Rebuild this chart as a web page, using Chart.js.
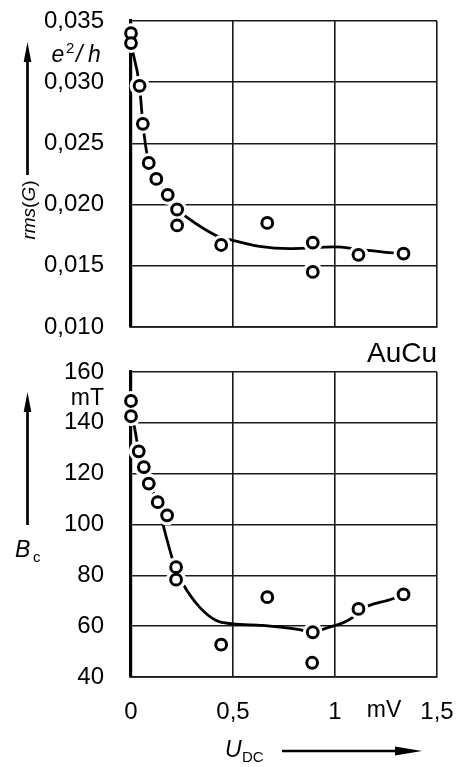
<!DOCTYPE html>
<html><head><meta charset="utf-8">
<script src="https://cdn.jsdelivr.net/npm/chart.js@4.4.0/dist/chart.umd.min.js"></script>
<style>
html,body{margin:0;padding:0;background:#fff;}
#wrap{position:relative;width:459px;height:767px;overflow:hidden;}
#c1{position:absolute;left:0;top:0;}
#c2{position:absolute;left:0;top:340px;}
</style></head><body>
<div id="wrap"><canvas id="c1" width="459" height="340"></canvas><canvas id="c2" width="459" height="427"></canvas></div>
<script>
// ---- data ----
const xTicks = [0, 0.5, 1, 1.5];
const xTickLabels = ['0', '0,5', '1', '1,5'];
const rmsTicks = [0.010, 0.015, 0.020, 0.025, 0.030, 0.035];
const bcTicks = [40, 60, 80, 100, 120, 140, 160];

// measured points, top panel: rms(G) in e^2/h vs U_DC in mV
const rmsU = [0, 0, 0.042, 0.058, 0.087, 0.124, 0.180, 0.226, 0.226, 0.442, 0.668, 0.891, 0.891, 1.115, 1.336];
const rmsG = [0.0340, 0.0332, 0.0297, 0.0266, 0.0234, 0.0221, 0.0208, 0.0196, 0.0183, 0.0167, 0.0185, 0.0169, 0.0145, 0.0159, 0.0160];
// drawn guide curve, top panel
const rmsFitU = [0.001, 0.042, 0.058, 0.087, 0.124, 0.180, 0.226, 0.271, 0.369, 0.447, 0.499, 0.630, 0.777, 0.888, 0.998, 1.115, 1.282, 1.336];
const rmsFitG = [0.0330, 0.02967, 0.02664, 0.02337, 0.02207, 0.02084, 0.01962, 0.01899, 0.01791, 0.01725, 0.01708, 0.01659, 0.01641, 0.01647, 0.01654, 0.01635, 0.01605, 0.01602];

// measured points, bottom panel: B_c in mT vs U_DC in mV
const bcU = [0, 0, 0.038, 0.063, 0.087, 0.131, 0.177, 0.221, 0.221, 0.442, 0.668, 0.891, 0.888, 1.115, 1.336];
const bcB = [148.6, 142.6, 128.8, 122.6, 116.1, 108.8, 103.6, 83.2, 78.3, 52.7, 71.4, 57.6, 45.6, 66.8, 72.5];
// drawn guide curve, bottom panel
const bcFitU = [0.001, 0.017, 0.038, 0.063, 0.087, 0.131, 0.156, 0.205, 0.222, 0.254, 0.336, 0.418, 0.499, 0.646, 0.826, 0.888, 0.949, 1.087, 1.115, 1.283, 1.336];
const bcFitB = [142.6, 138.2, 128.8, 122.6, 116.1, 108.8, 100.3, 85.9, 81.9, 76.7, 67.5, 62.2, 60.9, 60.3, 58.6, 57.6, 59.0, 63.5, 66.0, 70.8, 72.5];

// ---- helpers ----
const FAM = '"Liberation Sans", Arial, Helvetica, sans-serif';
Chart.defaults.font.family = FAM;
Chart.defaults.color = '#000';
const zip = (a, b) => a.map((v, i) => ({x: v, y: b[i]}));

function arrowV(ctx, x, yBottom, yTip, headLen, headHalf, lw) {
  ctx.save();
  ctx.strokeStyle = '#000'; ctx.fillStyle = '#000'; ctx.lineWidth = lw;
  ctx.beginPath(); ctx.moveTo(x, yBottom); ctx.lineTo(x, yTip + headLen - 2); ctx.stroke();
  ctx.beginPath(); ctx.moveTo(x, yTip); ctx.lineTo(x - headHalf, yTip + headLen); ctx.lineTo(x + headHalf, yTip + headLen); ctx.closePath(); ctx.fill();
  ctx.restore();
}
function arrowH(ctx, xLeft, xTip, y, headLen, headHalf, lw) {
  ctx.save();
  ctx.strokeStyle = '#000'; ctx.fillStyle = '#000'; ctx.lineWidth = lw;
  ctx.beginPath(); ctx.moveTo(xLeft, y); ctx.lineTo(xTip - headLen + 2, y); ctx.stroke();
  ctx.beginPath(); ctx.moveTo(xTip, y); ctx.lineTo(xTip - headLen, y - headHalf); ctx.lineTo(xTip - headLen, y + headHalf); ctx.closePath(); ctx.fill();
  ctx.restore();
}
function txt(ctx, s, x, y, font, align, base) {
  ctx.save(); ctx.font = font; ctx.fillStyle = '#000';
  ctx.textAlign = align || 'left'; ctx.textBaseline = base || 'alphabetic';
  ctx.fillText(s, x, y); ctx.restore();
}

function datasetsFor(pts, fit) {
  return [
    {data: pts, showLine: false, pointRadius: 5.4, pointBorderWidth: 3, pointBorderColor: '#000', pointBackgroundColor: '#fff', pointHoverRadius: 5.4, clip: false, order: 0},
    {data: pts, showLine: false, pointRadius: 10, pointBorderWidth: 0, pointBorderColor: '#fff', pointBackgroundColor: '#fff', pointHoverRadius: 10, clip: false, order: 1},
    {data: fit, showLine: true, fill: false, borderColor: '#000', borderWidth: 2.8, pointRadius: 0, pointHoverRadius: 0, cubicInterpolationMode: 'monotone', order: 2}
  ];
}
const gridStyle = {color: '#1a1a1a', lineWidth: 1.6, drawTicks: false};
const noPadY = (w) => s => { s.width = w; s.paddingTop = 0; s.paddingBottom = 0; };
const noPadX = (h) => s => { s.height = h; s.paddingLeft = 0; s.paddingRight = 0; };
const TICK_FONT = {size: 24, family: FAM};

// ---- top chart ----
const topPlugin = {
  id: 'topAnn',
  afterDraw(chart) {
    const ctx = chart.ctx;
    // unit e^2/h
    txt(ctx, 'e', 51.5, 62, 'italic 23px ' + FAM);
    txt(ctx, '2', 66, 53, '15px ' + FAM);
    txt(ctx, '/', 76, 62, 'italic 23px ' + FAM);
    txt(ctx, 'h', 88, 62, 'italic 23px ' + FAM);
    arrowV(ctx, 27.5, 175, 42, 20, 3.8, 2.7);
    // rotated axis title rms(G)
    ctx.save();
    ctx.translate(35, 210);
    ctx.rotate(-Math.PI / 2);
    const parts = [['rms', 'italic 19px '], ['(', '19px '], ['G', 'italic 19px '], [')', '19px ']];
    let total = 0;
    parts.forEach(p => { ctx.font = p[1] + FAM; total += ctx.measureText(p[0]).width; });
    let px = -total / 2;
    ctx.fillStyle = '#000'; ctx.textBaseline = 'alphabetic'; ctx.textAlign = 'left';
    parts.forEach(p => { ctx.font = p[1] + FAM; ctx.fillText(p[0], px, 0); px += ctx.measureText(p[0]).width; });
    ctx.restore();
  }
};
new Chart(document.getElementById('c1'), {
  type: 'scatter',
  data: {datasets: datasetsFor(zip(rmsU, rmsG), zip(rmsFitU, rmsFitG))},
  options: {
    responsive: false, animation: false, events: [],
    layout: {padding: {left: 0, right: 22, top: 21, bottom: 13}},
    plugins: {legend: {display: false}, tooltip: {enabled: false}},
    scales: {
      x: {type: 'linear', min: 0, max: 1.5,
          afterBuildTicks: s => { s.ticks = xTicks.map(v => ({value: v})); },
          ticks: {display: false},
          grid: gridStyle,
          border: {display: true, color: '#1a1a1a', width: 1.8},
          afterFit: noPadX(0)},
      y: {type: 'linear', min: 0.010, max: 0.035,
          afterBuildTicks: s => { s.ticks = rmsTicks.map(v => ({value: v})); },
          ticks: {padding: 27, color: '#000', font: TICK_FONT,
                  callback: v => v.toFixed(3).replace('.', ',')},
          grid: gridStyle,
          border: {display: true, color: '#000', width: 3.2},
          afterFit: noPadY(131)}
    }
  },
  plugins: [topPlugin]
});

// ---- bottom chart ----
const botPlugin = {
  id: 'botAnn',
  afterDraw(chart) {
    const ctx = chart.ctx;
    txt(ctx, 'AuCu', 437, 22, '28px ' + FAM, 'right');
    txt(ctx, 'mT', 104, 65, '23px ' + FAM, 'right');
    arrowV(ctx, 27.5, 185, 52, 20, 3.8, 2.7);
    txt(ctx, 'B', 15, 217, 'italic 23px ' + FAM);
    txt(ctx, 'c', 33, 222, '15px ' + FAM);
    txt(ctx, 'mV', 384, 370.5, '23px ' + FAM, 'center', 'middle');
    txt(ctx, 'U', 225, 417, 'italic 23px ' + FAM);
    txt(ctx, 'DC', 242, 422, '15px ' + FAM);
    arrowH(ctx, 282, 422, 411, 27, 4.5, 2.7);
  }
};
new Chart(document.getElementById('c2'), {
  type: 'scatter',
  data: {datasets: datasetsFor(zip(bcU, bcB), zip(bcFitU, bcFitB))},
  options: {
    responsive: false, animation: false, events: [],
    layout: {padding: {left: 0, right: 22, top: 32, bottom: 0}},
    plugins: {legend: {display: false}, tooltip: {enabled: false}},
    scales: {
      x: {type: 'linear', min: 0, max: 1.5,
          afterBuildTicks: s => { s.ticks = xTicks.map(v => ({value: v})); },
          ticks: {padding: 21, color: '#000', font: TICK_FONT, maxRotation: 0, autoSkip: false,
                  callback: (v, i) => xTickLabels[i]},
          grid: gridStyle,
          border: {display: true, color: '#1a1a1a', width: 1.8},
          afterFit: noPadX(90)},
      y: {type: 'linear', min: 40, max: 160,
          afterBuildTicks: s => { s.ticks = bcTicks.map(v => ({value: v})); },
          ticks: {padding: 27, color: '#000', font: TICK_FONT},
          grid: gridStyle,
          border: {display: true, color: '#000', width: 3.2},
          afterFit: noPadY(131)}
    }
  },
  plugins: [botPlugin]
});
</script>
</body></html>
